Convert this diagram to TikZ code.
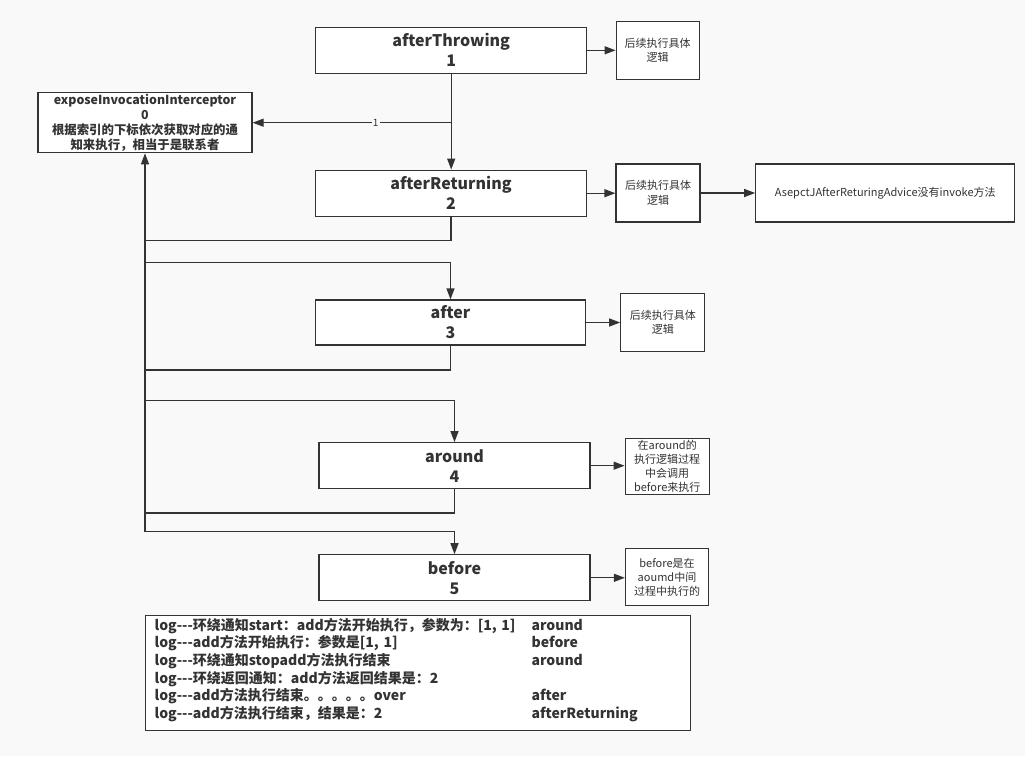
\documentclass[tikz,border=0pt]{standalone}
\usepackage{fontspec}
\setmainfont{Noto Sans CJK SC}
\usetikzlibrary{arrows.meta}
\definecolor{ink}{HTML}{333333}
\definecolor{paper}{HTML}{F9F9F9}
\newcommand{\logline}[2]{\makebox[377pt][l]{log-{}-{}-#1}#2}

\begin{document}
\begin{tikzpicture}[x=1pt,y=-1pt,line width=1.25pt,color=ink,
  box/.style={draw,fill=white,align=center,inner sep=0pt,font=\bfseries\fontsize{16}{20}\selectfont},
  note/.style={draw,fill=white,align=center,inner sep=0pt,font=\fontsize{11}{14.5}\selectfont},
  arr/.style={-{Triangle[length=11pt,width=8pt]}},
  lbl/.style={fill=paper,inner sep=1pt,font=\fontsize{10}{12}\selectfont}]
\fill[paper] (0,0) rectangle (1025,756);
\useasboundingbox (0,0) rectangle (1025,756);
% advice chain
\node[box,minimum width=271pt,minimum height=46pt] (at) at (451.2,50.3){afterThrowing\\1};
\node[box,minimum width=271pt,minimum height=46pt] (ar) at (451,193.2){afterReturning\\2};
\node[box,minimum width=270pt,minimum height=45pt] (af) at (450.5,322.5){after\\3};
\node[box,minimum width=271pt,minimum height=46pt] (ao) at (454.5,465.7){around\\4};
\node[box,minimum width=271pt,minimum height=46pt] (bf) at (454.5,577.8){before\\5};
\node[draw,fill=white,align=center,inner sep=0pt,minimum width=214pt,minimum height=60pt,
  font=\bfseries\fontsize{12.4}{15}\selectfont] (ex) at (145,122.7)
  {exposeInvocationInterceptor\\0\\根据索引的下标依次获取对应的通\\知来执行，相当于是联系者};
% notes
\node[note,minimum width=83pt,minimum height=58pt] (n1) at (657.7,50.5){后续执行具体\\逻辑};
\node[note,minimum width=84pt,minimum height=58pt] (n2) at (658,193){后续执行具体\\逻辑};
\node[note,minimum width=259pt,minimum height=58pt,font=\fontsize{11}{14}\selectfont] (nb) at (885.3,193){AsepctJAfterReturingAdvice没有invoke方法};
\node[note,minimum width=84pt,minimum height=58pt] (n3) at (662.8,322.5){后续执行具体\\逻辑};
\node[note,minimum width=84pt,minimum height=56pt,font=\fontsize{11}{13.8}\selectfont] (n4) at (667.2,466.2){在around的\\执行逻辑过程\\中会调用\\before来执行};
\node[note,minimum width=83pt,minimum height=57pt,font=\fontsize{11}{14}\selectfont] (n5) at (667,577){before是在\\aoumd中间\\过程中执行的};
% log output
\node[draw,fill=white,anchor=north west,text width=527pt,align=left,inner xsep=9pt,inner ysep=0pt,
  font=\bfseries\fontsize{14}{17.6}\selectfont] (lg) at (145,614.7)
  {\rule{0pt}{15pt}\logline{环绕通知start：add方法开始执行，参数为：[1, 1]}{around}\\
   \logline{add方法开始执行：参数是[1, 1]}{before}\\
   \logline{环绕通知stopadd方法执行结束}{around}\\
   \logline{环绕返回通知：add方法返回结果是：2}{}\\
   \logline{add方法执行结束。。。。。over}{after}\\
   \logline{add方法执行结束，结果是：2}{afterReturning}\rule[-12.5pt]{0pt}{12.5pt}};
% trunk points
\coordinate (j0) at (at.south |- ex.east);
\coordinate (t1) at (145,240.7);
\coordinate (t2) at (145,262.3);
\coordinate (t3) at (145,370);
\coordinate (t4) at (145,400.7);
\coordinate (t5) at (145,513);
\coordinate (t6) at (145,531.7);
% connectors
\draw[arr] (at.south) -- (at.south |- ar.north);
\draw[arr] (j0) -- (ex.east) node[lbl,pos=.38]{1};
\draw[arr] (at.east) -- (at.east -| n1.west);
\draw[arr] (ar.east) -- (ar.east -| n2.west);
\draw[arr] (n2.east) -- (n2.east -| nb.west);
\draw[arr] (af.east) -- (af.east -| n3.west);
\draw[arr] (ao.east) -- (ao.east -| n4.west);
\draw[arr] (bf.east) -- (bf.east -| n5.west);
\draw (ar.south) |- (t1);
\draw[arr] (t2) -| (af.north);
\draw (af.south) |- (t3);
\draw[arr] (t4) -| (ao.north);
\draw (ao.south) |- (t5);
\draw[arr] (t6) -| (bf.north);
\draw[arr] (t6) -- (ex.south);
\end{tikzpicture}
\end{document}
